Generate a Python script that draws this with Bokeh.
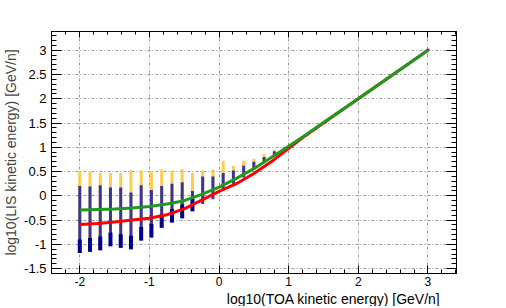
from bokeh.plotting import figure
from bokeh.models import Range1d, LinearAxis, SingleIntervalTicker, Grid, Title, CustomJSTickFormatter
from bokeh.embed import file_html
from bokeh.resources import INLINE

# ---- data ----
line_x = [-2.0, -1.75, -1.5, -1.25, -1.0, -0.75, -0.5, -0.25, 0.0, 0.25, 0.5, 0.75,
          1.0, 1.25, 1.5, 2.0, 2.5, 3.0]
green_y = [-0.29, -0.28, -0.27, -0.25, -0.22, -0.17, -0.10, 0.03, 0.18, 0.36, 0.56, 0.79,
           1.02, 1.26, 1.51, 2.0, 2.5, 3.0]
red_y = [-0.59, -0.57, -0.54, -0.50, -0.46, -0.39, -0.27, -0.09, 0.09, 0.25, 0.46, 0.70,
         0.98, 1.25, 1.50, 2.0, 2.5, 3.0]

band_x = [-2.0, -1.853, -1.706, -1.559, -1.412, -1.265, -1.118, -0.971, -0.824, -0.676,
          -0.529, -0.382, -0.235, -0.088, 0.059, 0.206, 0.353, 0.5, 0.647, 0.794,
          0.941, 1.088, 1.235, 1.382, 1.529, 1.676, 1.824, 1.971, 2.118, 2.265,
          2.412, 2.559, 2.706, 2.853, 3.0]
orange_top = [0.50, 0.50, 0.47, 0.47, 0.47, 0.53, 0.52, 0.50, 0.54, 0.52,
              0.55, 0.47, 0.52, 0.54, 0.72, 0.62, 0.72, 0.76, 0.86, 0.95,
              1.00, 1.12, 1.27, 1.41, 1.56, 1.71, 1.85, 2.00, 2.15, 2.29,
              2.44, 2.59, 2.73, 2.88, 3.03]
orange_bottom = [-1.05, -1.02, -0.98, -0.92, -0.95, -0.98, -0.82, -0.76, -0.62, -0.50,
                 -0.42, -0.28, -0.15, -0.05, 0.15, 0.25, 0.40, 0.55, 0.70, 0.82,
                 0.93, 1.06, 1.21, 1.36, 1.51, 1.66, 1.81, 1.96, 2.10, 2.25,
                 2.40, 2.55, 2.69, 2.84, 2.99]
blue_top = [0.20, 0.19, 0.22, 0.17, 0.17, 0.07, 0.22, 0.12, 0.20, 0.25,
            0.28, 0.10, 0.40, 0.40, 0.47, 0.52, 0.62, 0.70, 0.80, 0.92,
            1.00, 1.11, 1.26, 1.40, 1.55, 1.70, 1.85, 2.00, 2.14, 2.29,
            2.44, 2.58, 2.73, 2.88, 3.03]
blue_bottom = [-1.18, -1.15, -1.12, -1.04, -1.07, -1.10, -0.92, -0.86, -0.66, -0.55,
               -0.46, -0.32, -0.17, -0.07, 0.15, 0.25, 0.38, 0.55, 0.70, 0.82,
               0.93, 1.06, 1.21, 1.36, 1.51, 1.66, 1.81, 1.96, 2.10, 2.25,
               2.40, 2.55, 2.69, 2.84, 2.99]

x_title = "log10(TOA kinetic energy) [GeV/n]"
y_title = "log10(LIS kinetic energy) [GeV/n]"

FONT = "Liberation Sans"

p = figure(width=490, height=306, output_backend="svg", toolbar_location=None,
           x_range=Range1d(-2.406, 3.41), y_range=Range1d(-1.6, 3.385),
           min_border_left=51, min_border_right=34, min_border_top=31, min_border_bottom=29,
           x_axis_type=None, y_axis_type=None)
p.background_fill_color = "white"
p.border_fill_color = "white"
p.outline_line_color = "black"

xt = SingleIntervalTicker(interval=1, num_minor_ticks=5)
yt = SingleIntervalTicker(interval=0.5, num_minor_ticks=5)
plain = CustomJSTickFormatter(code="return tick.toString();")
blank = CustomJSTickFormatter(code="return '';")


def style(ax, major, minor):
    ax.axis_line_color = "black"
    ax.major_tick_line_color = "black"
    ax.minor_tick_line_color = "black"
    ax.major_tick_out = 0
    ax.minor_tick_out = 0
    ax.major_tick_in = major
    ax.minor_tick_in = minor
    ax.major_label_text_font = FONT
    ax.major_label_text_color = "black"


xb = LinearAxis(ticker=xt, formatter=plain)
style(xb, 8, 4)
xb.major_label_text_font_size = "12px"
xb.major_label_standoff = 3
p.add_layout(xb, "below")

yl = LinearAxis(ticker=yt, formatter=plain, axis_label=y_title)
style(yl, 10, 5)
yl.major_label_text_font_size = "13px"
yl.major_label_standoff = 5
yl.axis_label_standoff = 2
yl.axis_label_text_font = FONT
yl.axis_label_text_font_size = "14px"
yl.axis_label_text_font_style = "normal"
p.add_layout(yl, "left")

xa = LinearAxis(ticker=xt, formatter=blank)
style(xa, 6, 3)
xa.major_label_standoff = 0
p.add_layout(xa, "above")

yr = LinearAxis(ticker=yt, formatter=blank)
style(yr, 10, 5)
yr.major_label_standoff = 0
p.add_layout(yr, "right")

t = Title(text=x_title, align="right", offset=16, standoff=0,
          text_font=FONT, text_font_size="14px", text_font_style="normal",
          text_color="black")
p.add_layout(t, "below")

gx = Grid(dimension=0, ticker=xt, grid_line_color="#999999", grid_line_dash="3 2 1 2",
          grid_line_width=1)
gy = Grid(dimension=1, ticker=yt, grid_line_color="#999999", grid_line_dash="3 2 1 2",
          grid_line_width=1)
p.add_layout(gx)
p.add_layout(gy)

# bands
p.segment(x0=band_x, y0=orange_bottom, x1=band_x, y1=orange_top,
          line_color="#ffc83a", line_width=3, line_alpha=0.9)
p.segment(x0=band_x, y0=blue_bottom, x1=band_x, y1=blue_top,
          line_color="#1a1aa0", line_width=3, line_alpha=0.85)
dense_top = [b + 0.28 for b in blue_bottom[:12]]
p.segment(x0=band_x[:12], y0=blue_bottom[:12], x1=band_x[:12], y1=dense_top,
          line_color="#00008c", line_width=4)

# curves
p.line(line_x, red_y, line_color="#ff0000", line_width=3)
p.line(line_x, green_y, line_color="#1f9a1f", line_width=3)

open("out.html", "w").write(file_html(p, INLINE))
